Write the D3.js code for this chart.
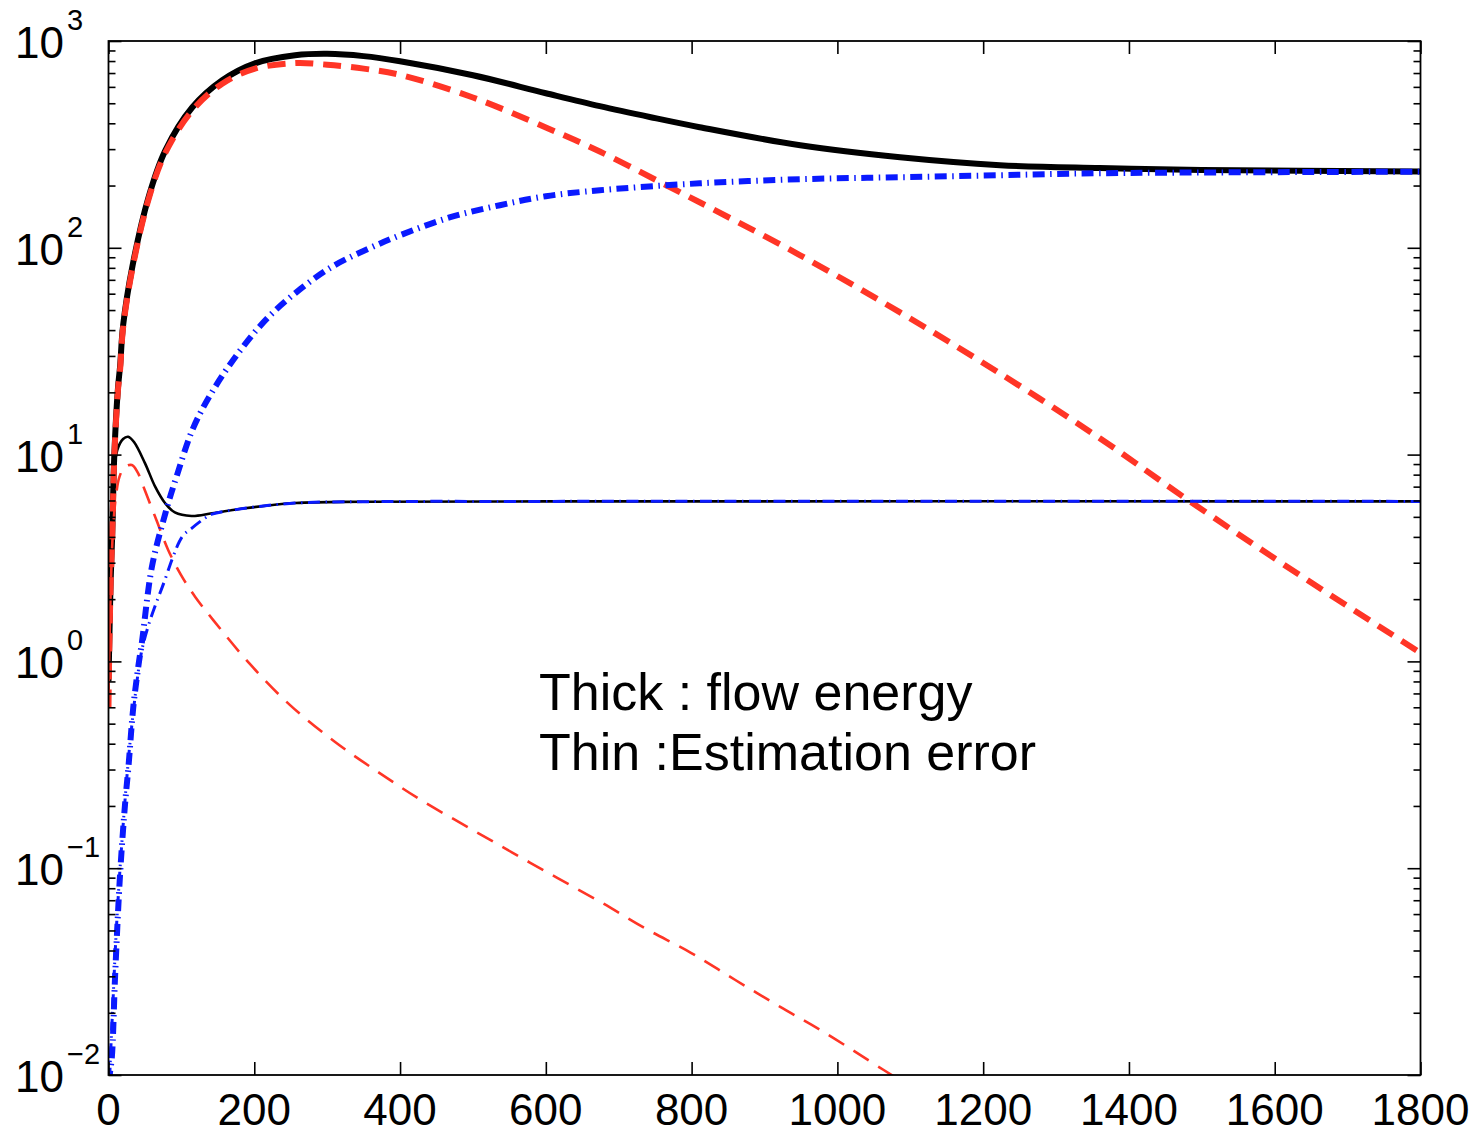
<!DOCTYPE html>
<html>
<head>
<meta charset="utf-8">
<script src="https://cdn.jsdelivr.net/npm/d3@7"></script>
<style>
  html, body { margin: 0; padding: 0; background: #fff; }
  svg { display: block; }
  text { font-family: "Liberation Sans", Arial, Helvetica, sans-serif; fill: #000; }
</style>
</head>
<body>
<svg id="chart" width="1480" height="1135"></svg>
<script>
// ---------------- data ----------------
const xTicks = [0, 200, 400, 600, 800, 1000, 1200, 1400, 1600, 1800];
const yTickExponents = [-2, -1, 0, 1, 2, 3];

// Thick : flow energy
const thickTotal = [ // black solid
  [0, 0.8], [1, 1.2], [3, 2.5], [5, 4], [8, 10], [13, 21], [16, 27], [20, 42], [33, 82],
  [55, 176], [78, 296], [115, 478], [156, 646], [201, 780], [256, 853], [300, 867],
  [350, 845], [400, 798], [500, 683], [600, 559], [674, 484], [744, 428], [811, 383],
  [949, 313], [1086, 274], [1223, 251], [1360, 243], [1500, 238], [1800, 234]
];
const thickRed = [ // red dashed
  [0, 0.6], [1, 1.1], [3, 2.4], [5, 3.9], [8, 9.8], [13, 20.5], [16, 26], [20, 41], [33, 80],
  [55, 172], [78, 288], [115, 462], [156, 622], [201, 735], [256, 782], [300, 768],
  [350, 735], [400, 686], [500, 533], [600, 382], [674, 292], [766, 200], [811, 166],
  [949, 92], [1086, 48.7], [1223, 24.7], [1360, 12.0], [1479, 6.1], [1634, 2.62], [1800, 1.1]
];
const thickBlue = [ // blue dash-dot
  [0, 0.007], [1.5, 0.0098], [4.6, 0.0122], [9.2, 0.031], [16, 0.095], [23, 0.21],
  [27.4, 0.31], [34, 0.6], [41, 0.95], [46, 1.25], [59.5, 2.86], [78, 5.2], [94, 7.96],
  [116, 13.4], [143.6, 20.5], [181, 32], [218, 45.7], [263, 63.1], [308, 81.5],
  [355, 98.4], [400, 115], [469, 140.6], [537, 160.7], [600, 177.6], [674, 189.8],
  [811, 205], [949, 214.6], [1086, 219.4], [1223, 224.4], [1360, 229.4], [1800, 233.3]
];

// Thin : estimation error
const thinTotal = [ // black solid
  [0, 0.7], [2, 1.8], [4, 4], [6.5, 7.3], [12, 10.5], [20, 11.9], [27, 12.2], [35, 11.5],
  [50, 9.1], [64, 7.0], [78, 5.8], [91, 5.25], [114, 5.05], [142, 5.2], [187, 5.5],
  [256, 5.83], [350, 5.92], [600, 5.94], [1800, 5.94]
];
const thinRed = [ // red dashed
  [0, 0.7], [3, 2.2], [6, 4.2], [10, 6.2], [15, 7.8], [22, 8.7], [32, 8.9], [40, 8.2],
  [50, 6.7], [66, 4.8], [82, 3.45], [100, 2.6], [119, 2.05], [144, 1.58], [193, 0.98],
  [248, 0.62], [310, 0.41], [371, 0.29], [432, 0.21], [493, 0.158], [554, 0.119],
  [615, 0.09], [677, 0.068], [737, 0.051], [799, 0.039], [860, 0.0288], [921, 0.0214],
  [983, 0.016], [1063, 0.0106], [1100, 0.0088]
];
const thinBlue = [ // blue dash-dot
  [1.5, 0.0095], [3, 0.013], [6, 0.022], [10, 0.045], [15, 0.09], [20, 0.16], [25, 0.27],
  [30, 0.42], [37, 0.7], [45, 1.1], [55, 1.5], [74, 2.3], [101, 4.0], [114, 4.4],
  [133, 4.95], [142, 5.15], [187, 5.5], [256, 5.83], [350, 5.92], [600, 5.94], [1800, 5.94]
];

const annotation = ["Thick : flow energy", "Thin :Estimation error"];

// ---------------- layout ----------------
const margin = { left: 108.5, top: 41, right: 1480 - 1420.5, bottom: 1135 - 1075 };
const W = 1480 - margin.left - margin.right;
const H = 1135 - margin.top - margin.bottom;

const svg = d3.select("#chart");
const g = svg.append("g").attr("transform", `translate(${margin.left},${margin.top})`);

const x = d3.scaleLinear().domain([0, 1800]).range([0, W]);
const y = d3.scaleLog().domain([1e-2, 1e3]).range([H, 0]);

svg.append("defs").append("clipPath").attr("id", "clip")
  .append("rect").attr("x", 0).attr("y", 0).attr("width", W).attr("height", H);

// ---------------- curves ----------------
const RED = "#ff3526", BLUE = "#0a1aff";
const line = d3.line().x(d => x(d[0])).y(d => y(d[1])).curve(d3.curveCatmullRom.alpha(0.5));
const plot = g.append("g").attr("clip-path", "url(#clip)");

const series = [
  { data: thickTotal, color: "#000", width: 6, dash: null },
  { data: thinTotal, color: "#000", width: 2.6, dash: null },
  { data: thickRed, color: RED, width: 6, dash: "18,10" },
  { data: thinRed, color: RED, width: 2.6, dash: "18,11" },
  { data: thickBlue, color: BLUE, width: 6, dash: "12,5.5,1.5,5.5" },
  { data: thinBlue, color: BLUE, width: 3, dash: "12,5.5,1.5,5.5" }
];
series.forEach(s => {
  plot.append("path")
    .datum(s.data)
    .attr("d", line)
    .attr("fill", "none")
    .attr("stroke", s.color)
    .attr("stroke-width", s.width)
    .attr("stroke-dasharray", s.dash)
    .attr("stroke-linejoin", "round");
});

// ---------------- axes (MATLAB-style box with inward ticks) ----------------
const majorLen = 13, minorLen = 7;

const xAxisBottom = d3.axisBottom(x).tickValues(xTicks).tickSizeInner(-majorLen).tickSizeOuter(0).tickFormat("");
const xAxisTop = d3.axisTop(x).tickValues(xTicks).tickSizeInner(-majorLen).tickSizeOuter(0).tickFormat("");
const gxb = g.append("g").attr("transform", `translate(0,${H})`).call(xAxisBottom);
const gxt = g.append("g").call(xAxisTop);

const yMajor = yTickExponents.map(e => Math.pow(10, e));
const yMinor = [];
for (let e = -2; e < 3; e++) for (let m = 2; m <= 9; m++) yMinor.push(m * Math.pow(10, e));
const gyl = g.append("g").call(d3.axisLeft(y).tickValues(yMajor).tickSizeInner(-majorLen).tickSizeOuter(0).tickFormat(""));
const gylm = g.append("g").call(d3.axisLeft(y).tickValues(yMinor).tickSizeInner(-minorLen).tickSizeOuter(0).tickFormat(""));
const gyr = g.append("g").attr("transform", `translate(${W},0)`).call(d3.axisRight(y).tickValues(yMajor).tickSizeInner(-majorLen).tickSizeOuter(0).tickFormat(""));
const gyrm = g.append("g").attr("transform", `translate(${W},0)`).call(d3.axisRight(y).tickValues(yMinor).tickSizeInner(-minorLen).tickSizeOuter(0).tickFormat(""));

[gxb, gxt, gyl, gylm, gyr, gyrm].forEach(a => {
  a.selectAll("path.domain").remove();
  a.selectAll("line").attr("stroke", "#000").attr("stroke-width", 1.6);
});

// frame
g.append("rect").attr("x", 0).attr("y", 0).attr("width", W).attr("height", H)
  .attr("fill", "none").attr("stroke", "#000").attr("stroke-width", 1.8);

// x tick labels
g.append("g").selectAll("text").data(xTicks).join("text")
  .attr("x", d => x(d)).attr("y", H + 50)
  .attr("text-anchor", "middle")
  .style("font-size", "44px")
  .text(d => d);

// y tick labels 10^n
const yl = g.append("g").selectAll("text").data(yTickExponents).join("text")
  .attr("x", 15 - margin.left)
  .attr("y", d => y(Math.pow(10, d)) + 17)
  .style("font-size", "44px");
yl.append("tspan").text("10");
yl.append("tspan")
  .attr("dx", 3)
  .attr("dy", -28)
  .style("font-size", "29px")
  .text(d => d < 0 ? "\u2212" + Math.abs(d) : String(d));

// annotation
g.append("g").selectAll("text").data(annotation).join("text")
  .attr("x", 539 - margin.left)
  .attr("y", (d, i) => 710 - margin.top + i * 60)
  .style("font-size", "52px")
  .text(d => d);
</script>
</body>
</html>
